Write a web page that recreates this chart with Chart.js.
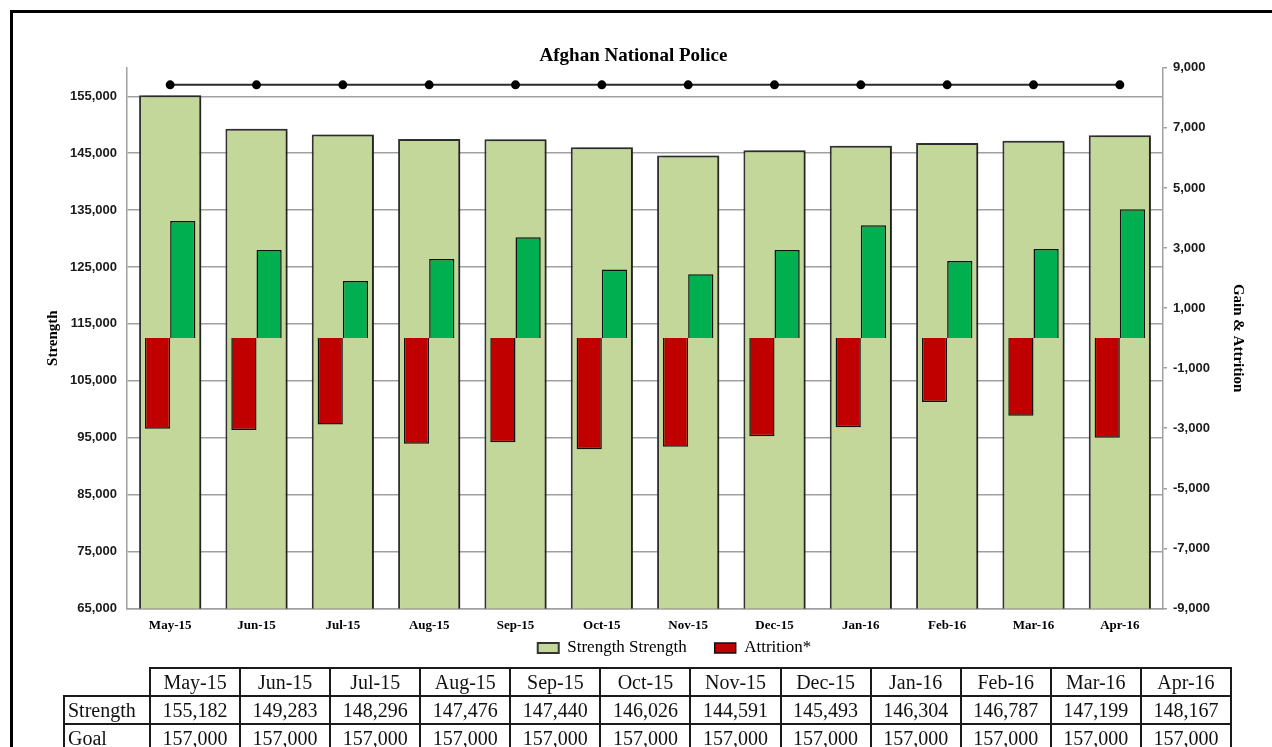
<!DOCTYPE html>
<html>
<head>
<meta charset="utf-8">
<title>Afghan National Police</title>
<script src="https://cdn.jsdelivr.net/npm/chart.js@4/dist/chart.umd.min.js"></script>
<style>
    html, body { margin: 0; padding: 0; background: #fff; overflow: hidden; }
    body { width: 1272px; height: 747px; position: relative; }
    .frame {
        position: absolute; left: 10px; top: 10px; width: 1300px; height: 800px;
        border-left: 3px solid #000; border-top: 3px solid #000;
    }
    .chart-box { position: absolute; left: 0; top: 0; width: 1272px; height: 697px; }
    table.data {
        position: absolute; left: 63px; top: 667px;
        border-collapse: collapse; table-layout: fixed; width: 1169px;
        font-family: "Liberation Serif", "Times New Roman", serif; font-size: 20px; color: #111;
    }
    table.data td {
        border: 2px solid #1a1a1a; height: 26px; padding: 0; text-align: center; line-height: 26px;
    }
    table.data td.rowhead { text-align: left; padding-left: 3px; }
    table.data td.blank { border-top: none; border-left: none; }
</style>
</head>
<body>
<div class="frame"></div>
<div class="chart-box"><canvas id="anpChart"></canvas></div>
<table class="data" id="dataTable"></table>

<script>
// ==============================
// DATA
// ==============================

const months = ['May-15', 'Jun-15', 'Jul-15', 'Aug-15', 'Sep-15', 'Oct-15',
                'Nov-15', 'Dec-15', 'Jan-16', 'Feb-16', 'Mar-16', 'Apr-16'];

const strength = [155182, 149283, 148296, 147476, 147440, 146026,
                  144591, 145493, 146304, 146787, 147199, 148167];

const goal = [157000, 157000, 157000, 157000, 157000, 157000,
              157000, 157000, 157000, 157000, 157000, 157000];

const gain = [3900, 2930, 1900, 2630, 3360, 2280, 2130, 2930, 3760, 2570, 2970, 4290];
const attrition = [-3020, -3060, -2880, -3515, -3470, -3700, -3615, -3270, -2970, -2130, -2585, -3315];

const strengthTicks = [65000, 75000, 85000, 95000, 105000, 115000, 125000, 135000, 145000, 155000];
const gainTicks = [-9000, -7000, -5000, -3000, -1000, 1000, 3000, 5000, 7000, 9000];

const fmt = v => v.toLocaleString('en-US');

const SERIF = '"Liberation Serif", "Times New Roman", serif';
const SANS = '"Liberation Sans", Arial, sans-serif';
const GRID = '#a0a0a0';


// ==============================
// HELPERS (shadow under strength bars, legend / title nudge)
// ==============================

const barShadow = {
    id: 'barShadow',
    beforeDatasetDraw(chart, args) {
        if (args.index !== 0) return;
        const c = chart.ctx;
        c.save();
        c.shadowColor = 'rgba(0,0,0,0.35)';
        c.shadowOffsetX = 4;
        c.shadowOffsetY = 0;
        c.shadowBlur = 4;
    },
    afterDatasetDraw(chart, args) {
        if (args.index !== 0) return;
        chart.ctx.restore();
    }
};

const boxNudge = {
    id: 'boxNudge',
    afterLayout(chart) {
        const lg = chart.legend;
        const dy = 611.5 - lg.top;
        lg.top += dy;
        lg.bottom += dy;
        lg.left += 29;
        lg.right += 29;
        chart.titleBlock.left -= 12;
        chart.titleBlock.right -= 12;
    }
};


// ==============================
// CHART
// ==============================

const anpCtx = document.getElementById('anpChart').getContext('2d');
new Chart(anpCtx, {
    type: 'bar',
    data: {
        labels: months,
        datasets: [
            {
                label: 'Strength Strength',
                data: strength,
                yAxisID: 'y',
                backgroundColor: '#c4d79b',
                borderColor: '#333333',
                borderWidth: 2,
                grouped: false,
                categoryPercentage: 0.8,
                barPercentage: 0.9,
                order: 3
            },
            {
                label: 'Attrition*',
                data: attrition,
                yAxisID: 'y2',
                backgroundColor: '#c00000',
                borderColor: '#111111',
                borderWidth: 1.5,
                categoryPercentage: 0.584,
                barPercentage: 1.0,
                order: 2
            },
            {
                label: 'Gain',
                data: gain,
                yAxisID: 'y2',
                backgroundColor: '#00b050',
                borderColor: '#111111',
                borderWidth: 1.5,
                categoryPercentage: 0.584,
                barPercentage: 1.0,
                order: 2
            },
            {
                type: 'line',
                label: 'Goal',
                data: goal,
                yAxisID: 'y',
                borderColor: '#2a2a2a',
                borderWidth: 2,
                pointRadius: 3.5,
                pointBackgroundColor: '#000',
                pointBorderColor: '#000',
                fill: false,
                tension: 0,
                order: 1
            }
        ]
    },
    options: {
        responsive: true,
        maintainAspectRatio: false,
        animation: false,
        layout: { padding: { left: 40, right: 21, top: 0, bottom: 0 } },
        plugins: {
            title: {
                display: true,
                text: 'Afghan National Police',
                color: '#000',
                font: { family: SERIF, size: 19, weight: 'bold', lineHeight: 1.2 },
                padding: { top: 45, bottom: 0 }
            },
            legend: {
                position: 'bottom',
                labels: {
                    color: '#000',
                    font: { family: SERIF, size: 17 },
                    boxWidth: 21,
                    boxHeight: 10,
                    padding: 28,
                    sort: (a, b) => a.datasetIndex - b.datasetIndex,
                    filter: item => item.text !== 'Gain' && item.text !== 'Goal'
                }
            },
            tooltip: { enabled: false }
        },
        scales: {
            x: {
                offset: true,
                grid: { display: false, drawTicks: false },
                border: { display: true, color: GRID, width: 1.5 },
                ticks: {
                    color: '#000',
                    font: { family: SERIF, size: 13, weight: 'bold' },
                    padding: 9,
                    maxRotation: 0
                }
            },
            y: {
                position: 'left',
                min: 65000,
                max: 160000,
                afterBuildTicks: scale => { scale.ticks = strengthTicks.map(v => ({ value: v })); },
                grid: { color: GRID, lineWidth: 1.5, drawTicks: false },
                border: { display: true, color: GRID, width: 1.5 },
                ticks: {
                    color: '#1a1a1a',
                    font: { family: SANS, size: 13, weight: 'bold' },
                    padding: 10,
                    callback: v => fmt(v)
                },
                title: {
                    display: true,
                    text: 'Strength',
                    color: '#000',
                    font: { family: SERIF, size: 15, weight: 'bold', lineHeight: 1.2 },
                    padding: { top: 4, bottom: 4 }
                },
                afterFit: scale => { scale.width = 87; }
            },
            y2: {
                position: 'right',
                min: -9000,
                max: 9000,
                afterBuildTicks: scale => { scale.ticks = gainTicks.map(v => ({ value: v })); },
                grid: { drawOnChartArea: false, color: GRID, lineWidth: 1.5, tickLength: 4 },
                border: { display: true, color: GRID, width: 1.5 },
                ticks: {
                    color: '#1a1a1a',
                    font: { family: SANS, size: 13, weight: 'bold' },
                    padding: 6,
                    callback: v => fmt(v)
                },
                title: {
                    display: true,
                    text: 'Gain & Attrition',
                    color: '#000',
                    font: { family: SERIF, size: 15, weight: 'bold', lineHeight: 1.2 },
                    padding: { top: 4, bottom: 4 }
                },
                afterFit: scale => { scale.width = 88; }
            }
        }
    },
    plugins: [barShadow, boxNudge]
});


// ==============================
// DATA TABLE UNDER THE CHART
// ==============================

const table = document.getElementById('dataTable');
let html = '<colgroup><col style="width:86px">' + months.map(() => '<col>').join('') + '</colgroup>';
html += '<tr><td class="blank"></td>' + months.map(m => '<td>' + m + '</td>').join('') + '</tr>';
html += '<tr><td class="rowhead">Strength</td>' + strength.map(v => '<td>' + fmt(v) + '</td>').join('') + '</tr>';
html += '<tr><td class="rowhead">Goal</td>' + goal.map(v => '<td>' + fmt(v) + '</td>').join('') + '</tr>';
table.innerHTML = html;
</script>
</body>
</html>
